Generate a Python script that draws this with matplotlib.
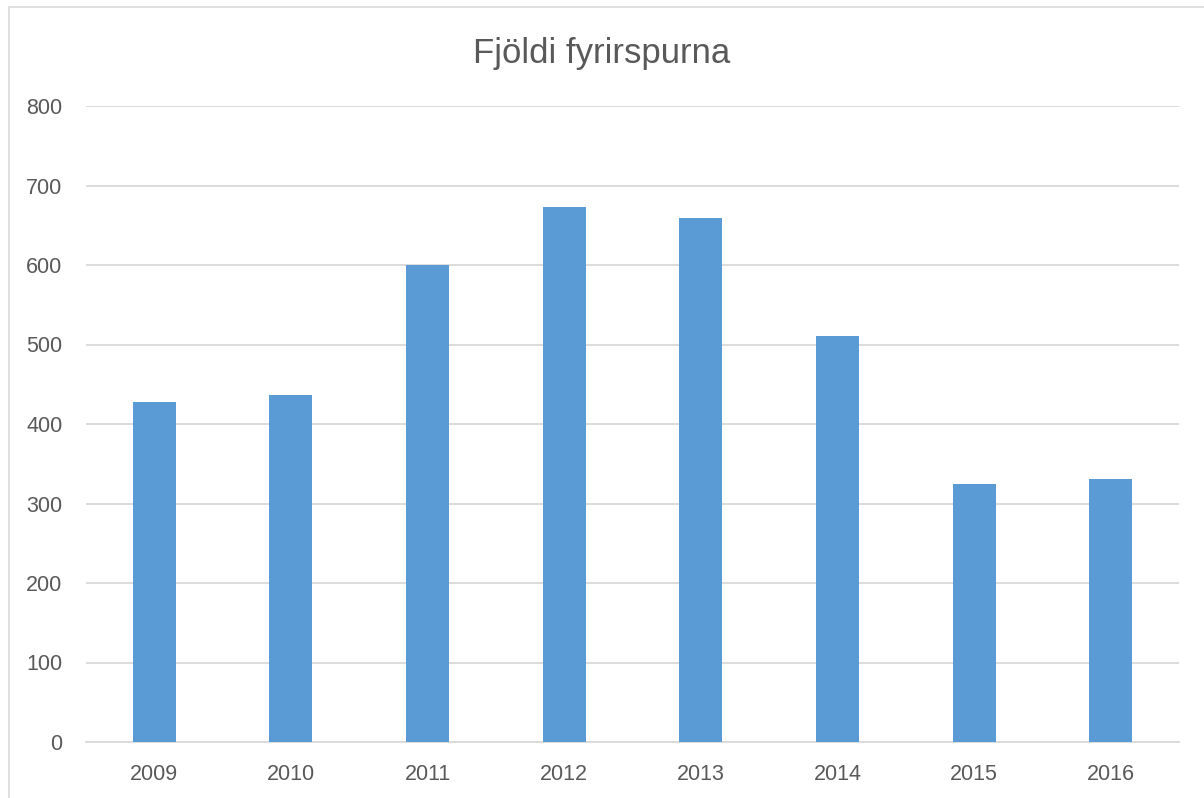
import numpy as np
import matplotlib.pyplot as plt
from matplotlib.patches import Rectangle

years = ["2009", "2010", "2011", "2012", "2013", "2014", "2015", "2016"]
counts = [428, 437, 600, 673, 659, 511, 325, 331]
y_ticks = [0, 100, 200, 300, 400, 500, 600, 700, 800]

bar_color = "#5B9BD5"
grid_color = "#D9D9D9"
text_color = "#595959"

plt.rcParams["font.family"] = ["Liberation Sans", "DejaVu Sans"]

fig = plt.figure(figsize=(12.04, 7.98), dpi=100)
ax = fig.add_axes([86 / 1204, 1 - 742 / 798, (1179 - 86) / 1204, (742 - 106) / 798])

x = np.arange(len(years))
ax.bar(x, counts, width=0.315, color=bar_color, zorder=3)

ax.set_xlim(-0.5, len(years) - 0.5)
ax.set_ylim(0, 800)
ax.set_yticks(y_ticks)
ax.set_xticks(x)
ax.set_xticklabels(years)
ax.grid(axis="y", color=grid_color, linewidth=1.3, zorder=0)
ax.tick_params(axis="both", length=0, labelsize=15.5, colors=text_color)
ax.tick_params(axis="y", pad=17)
ax.tick_params(axis="x", pad=16)
for s in ["top", "right", "left"]:
    ax.spines[s].set_visible(False)
ax.spines["bottom"].set_color(grid_color)
ax.spines["bottom"].set_linewidth(1.3)

fig.text(0.5, 1 - 53 / 798, "Fjöldi fyrirspurna", ha="center", va="center",
         fontsize=25, color=text_color)

# chart area border
fig.patches.append(Rectangle((8.5 / 1204, -0.1), 1.2, 1.1 - 7.5 / 798,
                             transform=fig.transFigure, fill=False,
                             edgecolor=grid_color, linewidth=1.2))

fig.savefig("out.png", dpi=100)
